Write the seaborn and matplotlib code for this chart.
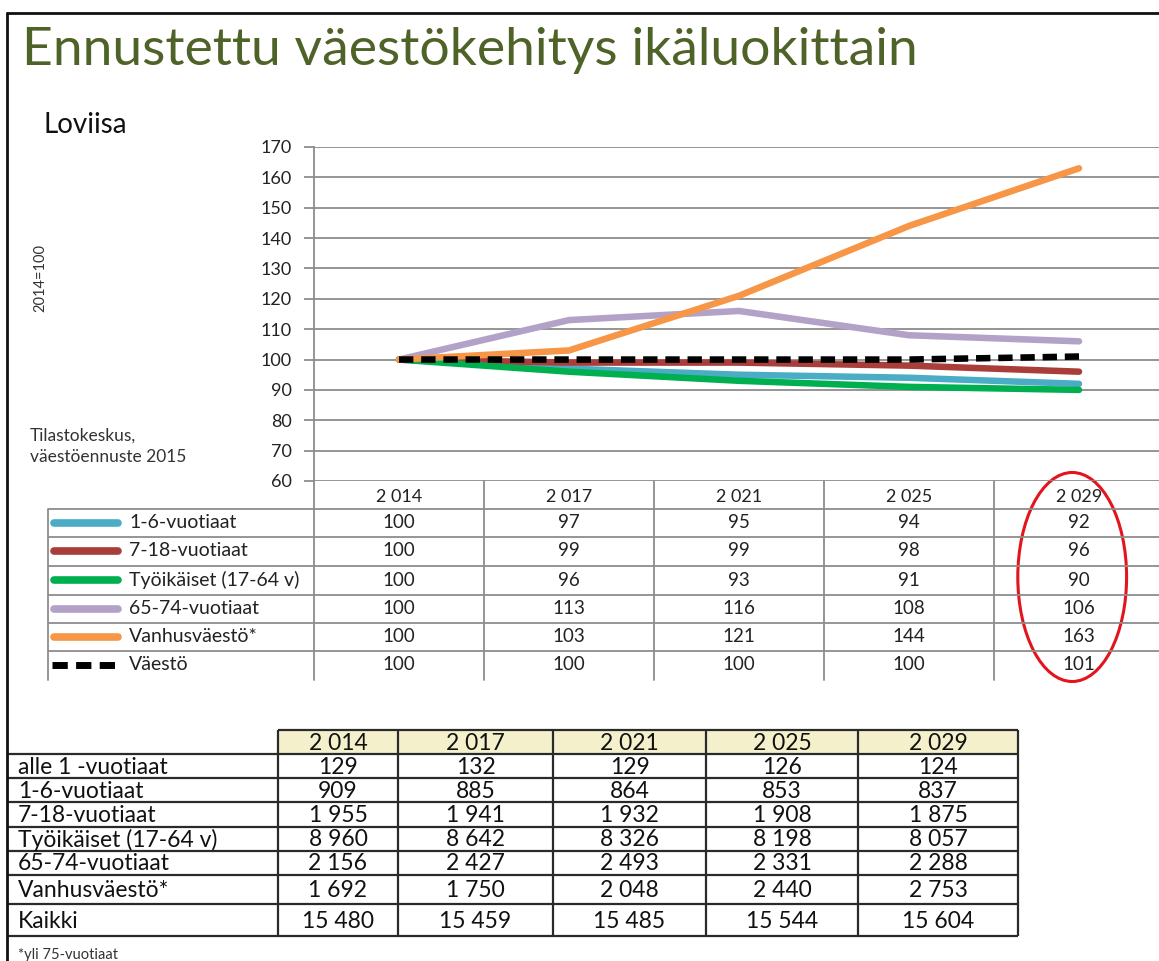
""" Ennustettu väestökehitys ikäluokittain, Loviisa """
import matplotlib

matplotlib.use("Agg")
from matplotlib import pyplot as plt
from matplotlib import transforms
from matplotlib.patches import Ellipse, Rectangle
import pandas as pd
import seaborn as sns

years = ["2 014", "2 017", "2 021", "2 025", "2 029"]

# Index series, 2014 = 100
idx_groups = [
    "1-6-vuotiaat",
    "7-18-vuotiaat",
    "Työikäiset (17-64 v)",
    "65-74-vuotiaat",
    "Vanhusväestö*",
    "Väestö",
]
idx_1_6 = [100, 97, 95, 94, 92]
idx_7_18 = [100, 99, 99, 98, 96]
idx_tyoikaiset = [100, 96, 93, 91, 90]
idx_65_74 = [100, 113, 116, 108, 106]
idx_vanhus = [100, 103, 121, 144, 163]
idx_vaesto = [100, 100, 100, 100, 101]
idx_colors = ["#4BACC6", "#A83D3A", "#00B050", "#B3A2C7", "#F79646", "#000000"]

# Population counts
cnt_rows = [
    "alle 1 -vuotiaat",
    "1-6-vuotiaat",
    "7-18-vuotiaat",
    "Työikäiset (17-64 v)",
    "65-74-vuotiaat",
    "Vanhusväestö*",
    "Kaikki",
]
cnt_alle_1 = [129, 132, 129, 126, 124]
cnt_1_6 = [909, 885, 864, 853, 837]
cnt_7_18 = [1955, 1941, 1932, 1908, 1875]
cnt_tyoikaiset = [8960, 8642, 8326, 8198, 8057]
cnt_65_74 = [2156, 2427, 2493, 2331, 2288]
cnt_vanhus = [1692, 1750, 2048, 2440, 2753]
cnt_kaikki = [15480, 15459, 15485, 15544, 15604]

W, H = 1159, 961
GRID = "#8C8C8C"
DASH = (2.2, 1.2)


def fmt(v):
    return f"{v:,}".replace(",", " ")


def plot_index(ax, ov):
    """Line chart of the index series plus its data table below"""
    idx_series = [idx_1_6, idx_7_18, idx_tyoikaiset, idx_65_74, idx_vanhus, idx_vaesto]
    df = pd.DataFrame(
        {
            "vuosi": years * len(idx_groups),
            "arvo": sum(idx_series, []),
            "ryhma": [g for g in idx_groups for _ in years],
        }
    )
    dashes = {g: "" for g in idx_groups}
    dashes["Väestö"] = DASH
    sns.lineplot(
        data=df,
        x="vuosi",
        y="arvo",
        hue="ryhma",
        style="ryhma",
        palette=dict(zip(idx_groups, idx_colors)),
        dashes=dashes,
        linewidth=4.7,
        sort=False,
        legend=False,
        solid_capstyle="round",
        dash_capstyle="butt",
        ax=ax,
    )
    ax.set_xlim(-0.5, len(years) - 0.5)
    ax.set_ylim(60, 170)
    ax.set_yticks(range(60, 171, 10))
    ax.set_xlabel("")
    ax.set_ylabel("")
    ax.grid(axis="y", color=GRID, lw=1.3)
    for s in ["top", "right", "bottom"]:
        ax.spines[s].set_visible(False)
    ax.spines["left"].set_color(GRID)
    ax.spines["left"].set_linewidth(1.3)
    ax.tick_params(axis="y", direction="out", length=7, width=1.3, color=GRID,
                   pad=9, labelsize=13, labelcolor="#222222", left=True)
    ax.tick_params(axis="x", length=0, pad=6, labelsize=13, labelcolor="#222222")

    # data table under the axes: x in data units, y in pixels
    tr = transforms.blended_transform_factory(ax.transData, ov.transData)
    bounds = [509, 537, 566, 595, 623, 651]
    centers = [523, 551, 580, 609, 637, 665]
    for k in range(len(years) + 1):
        ov.plot([k - 0.5, k - 0.5], [481, 680], transform=tr, color=GRID, lw=1.3)
    ov.hlines(bounds, 48, W, color=GRID, lw=1.3)
    ov.plot([48, 48], [509, 680], color=GRID, lw=1.3)
    for i, series in enumerate(idx_series):
        y = centers[i]
        if idx_groups[i] == "Väestö":
            ov.plot([52, 120], [y, y], color=idx_colors[i], lw=5, linestyle=(0, DASH),
                    dash_capstyle="butt")
        else:
            ov.plot([54, 118], [y, y], color=idx_colors[i], lw=5.5, solid_capstyle="round")
        ov.text(129, y, idx_groups[i], ha="left", va="center", fontsize=14,
                color="#222222")
        for k, v in enumerate(series):
            ov.text(k, y, str(v), transform=tr, ha="center", va="center",
                    fontsize=13.5, color="#222222")

    # red highlight round the last column
    ov.add_patch(Ellipse((len(years) - 1.04, 577), 0.64, 209, transform=tr,
                         fill=False, edgecolor="#E3141C", lw=2.2))


def plot_counts(ov):
    """Table of population counts"""
    cnt_series = [cnt_alle_1, cnt_1_6, cnt_7_18, cnt_tyoikaiset, cnt_65_74,
                  cnt_vanhus, cnt_kaikki]
    cols = [278, 398, 553, 706, 858, 1018]
    rows = [730, 754, 778, 802, 827, 851, 875, 904, 936]
    line = "#2A2A2A"
    ov.add_patch(Rectangle((cols[0], rows[0]), cols[-1] - cols[0], rows[1] - rows[0],
                           facecolor="#F4F0CC", edgecolor="none"))
    ov.hlines(rows[0], cols[0], cols[-1], color=line, lw=1.6)
    ov.hlines(rows[1:], 8, cols[-1], color=line, lw=1.6)
    ov.vlines(cols, rows[0], rows[-1], color=line, lw=1.6)
    for k, yr in enumerate(years):
        ov.text((cols[k] + cols[k + 1]) / 2, (rows[0] + rows[1]) / 2 + 1, yr,
                ha="center", va="center", fontsize=16.5, color="#111111")
    for i, label in enumerate(cnt_rows):
        y = (rows[i + 1] + rows[i + 2]) / 2 + 1
        ov.text(18, y, label, ha="left", va="center", fontsize=16.5, color="#111111")
        for k, v in enumerate(cnt_series[i]):
            ov.text((cols[k] + cols[k + 1]) / 2, y, fmt(v), ha="center",
                    va="center", fontsize=16.5, color="#111111")


sns.set_theme(style="white")
plt.rcParams["font.family"] = ["Lato", "DejaVu Sans"]

fig = plt.figure(figsize=(W / 100, H / 100), dpi=100)
ov = fig.add_axes([0, 0, 1, 1])
ov.set_xlim(0, W)
ov.set_ylim(H, 0)
ov.axis("off")
ax = fig.add_axes([314 / W, 1 - 481 / H, 850 / W, 334 / H])
ax.set_zorder(2)
ax.patch.set_alpha(0)

plot_index(ax, ov)
plot_counts(ov)

# frame and texts
ov.plot([7, 7], [H, 13], color="#111111", lw=2)
ov.plot([7, W], [13, 13], color="#111111", lw=2)
ov.text(22, 50, "Ennustettu väestökehitys ikäluokittain", ha="left", va="center",
        fontsize=38.5, color="#4F6228")
ov.text(43, 125, "Loviisa", ha="left", va="center", fontsize=20, color="#111111")
ov.text(40, 278, "2014=100", rotation=90, ha="center", va="center", fontsize=10.5,
        color="#333333")
ov.text(30, 446, "Tilastokeskus,\nväestöennuste 2015", ha="left", va="center",
        fontsize=12.5, color="#333333", linespacing=1.4)
ov.text(18, 955, "*yli 75-vuotiaat", ha="left", va="center", fontsize=10.5,
        color="#333333")

fig.savefig("out.png", dpi=100)
